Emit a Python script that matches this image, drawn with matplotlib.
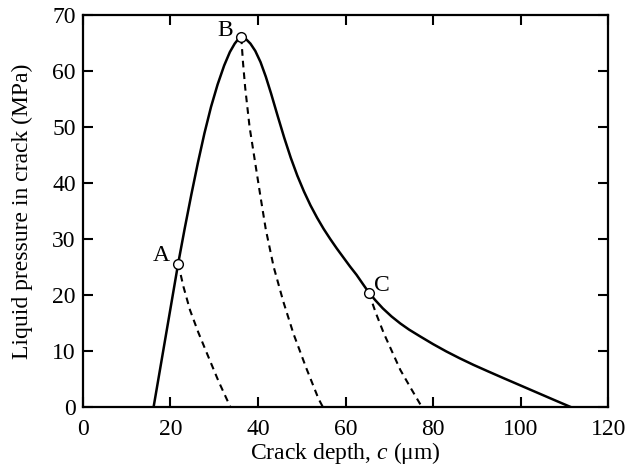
import matplotlib
matplotlib.use('Agg')
import matplotlib.pyplot as plt

plt.rcParams['font.family'] = ['Liberation Serif', 'DejaVu Serif']
plt.rcParams['mathtext.fontset'] = 'custom'
plt.rcParams['mathtext.rm'] = 'Liberation Serif'
plt.rcParams['mathtext.it'] = 'Liberation Serif:italic'

# critical pressure curve (solid)
crit_x = [16.2, 21.8, 23.3, 24.8, 26.3, 27.8, 29.3, 30.8, 32.3, 33.6, 34.7, 35.6,
          36.4, 37.3, 38.3, 39.4, 40.6, 41.8, 43.0, 44.5, 46.0, 47.5, 49.0, 50.5,
          52.0, 53.5, 55.0, 56.5, 58.0, 59.5, 61.0, 62.5, 64.0, 65.3, 66.8, 68.5,
          70.5, 72.5, 74.5, 77.0, 80.0, 83.0, 86.0, 89.2, 92.5, 96.0, 100.0, 104.0,
          108.0, 111.3]
crit_y = [0.0, 25.6, 31.9, 37.9, 43.6, 48.9, 53.6, 57.6, 61.0, 63.4, 64.9, 65.8,
          66.1, 65.7, 64.9, 63.6, 61.6, 59.0, 56.0, 52.0, 48.1, 44.5, 41.3, 38.5,
          36.0, 33.8, 31.8, 30.0, 28.3, 26.7, 25.1, 23.6, 21.9, 20.45, 19.05, 17.6,
          16.15, 14.9, 13.8, 12.6, 11.2, 9.9, 8.7, 7.5, 6.35, 5.15, 3.8, 2.45,
          1.1, 0.0]

# unloading paths (dashed)
path_a_x = [21.8, 23.0, 24.5, 26.4, 28.4, 31.0, 33.7]
path_a_y = [25.6, 21.5, 17.3, 13.3, 9.5, 4.6, 0.0]
path_b_x = [36.2, 36.6, 37.1, 38.1, 39.4, 40.6, 41.8, 43.6, 45.8, 48.1, 51.0, 53.8, 54.8]
path_b_y = [66.0, 61.5, 57.0, 50.0, 43.5, 37.5, 31.7, 25.0, 18.8, 13.1, 7.0, 1.5, 0.0]
path_c_x = [65.3, 66.9, 68.7, 70.6, 72.5, 75.0, 77.4]
path_c_y = [20.4, 16.8, 13.2, 9.9, 6.6, 3.2, 0.0]

# marked points
pt_names = ['A', 'B', 'C']
pt_x = [21.8, 36.2, 65.3]
pt_y = [25.6, 66.0, 20.4]
lbl_x = [18.0, 32.6, 68.2]
lbl_y = [27.1, 67.3, 21.6]

fig = plt.figure(figsize=(6.26, 4.72), dpi=100)
ax = fig.add_axes([0.132, 0.138, 0.840, 0.830])

ax.plot(crit_x, crit_y, color='black', lw=1.8, solid_joinstyle='round')
for px, py in [(path_a_x, path_a_y), (path_b_x, path_b_y), (path_c_x, path_c_y)]:
    ax.plot(px, py, color='black', lw=1.5, dashes=(3.2, 2.4))

ax.plot(pt_x, pt_y, 'o', ms=7, mfc='white', mec='black', mew=1.0, zorder=5)

for name, x, y in zip(pt_names, lbl_x, lbl_y):
    ax.text(x, y, name, ha='center', va='center', fontsize=17)

ax.set_xlim(0, 120)
ax.set_ylim(0, 70)
ax.set_xticks(range(0, 121, 20))
ax.set_yticks(range(0, 71, 10))
ax.tick_params(direction='in', top=True, right=True, length=7, width=1.5,
               labelsize=17)
ax.tick_params(axis='x', pad=9)
ax.tick_params(axis='y', pad=5)
for s in ax.spines.values():
    s.set_linewidth(1.6)

ax.set_xlabel('Crack depth, $c$ (μm)', fontsize=17, labelpad=0)
ax.set_ylabel('Liquid pressure in crack (MPa)', fontsize=17, labelpad=14)

fig.savefig('out.png', dpi=100)
